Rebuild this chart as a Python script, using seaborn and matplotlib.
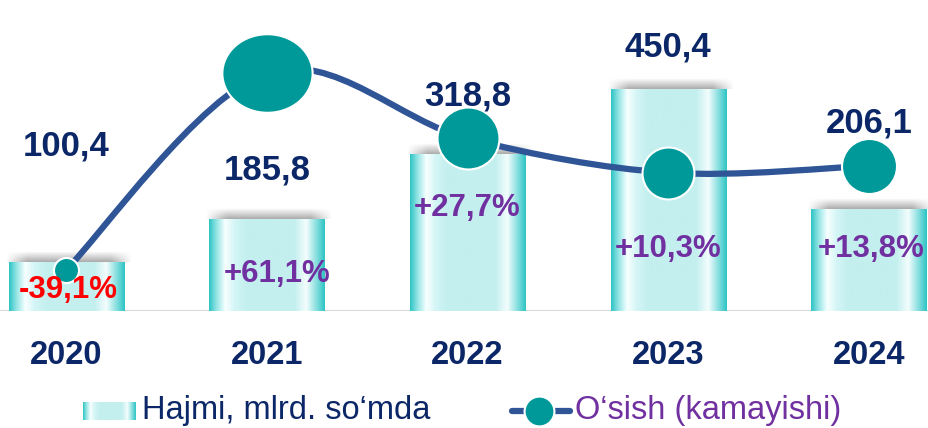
import numpy as np
import matplotlib
matplotlib.use("Agg")
import matplotlib.pyplot as plt
import matplotlib.transforms as mtransforms
from matplotlib.colors import LinearSegmentedColormap
from matplotlib.path import Path
from matplotlib.patches import PathPatch
from matplotlib.lines import Line2D
import seaborn as sns
import pandas as pd

# data
years = ["2020", "2021", "2022", "2023", "2024"]
volume = [100.4, 185.8, 318.8, 450.4, 206.1]      # Hajmi, mlrd. so'mda
growth = [-39.1, 61.1, 27.7, 10.3, 13.8]           # O'sish (kamayishi), %
volume_labels = ["100,4", "185,8", "318,8", "450,4", "206,1"]
growth_labels = ["-39,1%", "+61,1%", "+27,7%", "+10,3%", "+13,8%"]

# colours
NAVY = "#0b2767"
PURPLE = "#7030a0"
RED = "#ff0000"
LINE = "#2f5597"
TEAL = "#009999"

sns.set_style("white")
plt.rcParams["font.family"] = ["Liberation Sans", "DejaVu Sans"]

W, H = 929, 428
base_px = 311  # bar baseline, pixels from the top
fig = plt.figure(figsize=(W / 100, H / 100), dpi=100)
ax = fig.add_axes([0, (H - base_px) / H, 1, base_px / H])

df = pd.DataFrame({"year": years, "volume": volume})
sns.barplot(data=df, x="year", y="volume", ax=ax, width=0.573,
            color="#c6f0f0", saturation=1, edgecolor="none", zorder=2)

xlim = (-0.329, 4.299)
ylim = (0, 631)

# gradient fill + soft shadow on every bar
bar_cmap = LinearSegmentedColormap.from_list("bar", [
    (0.00, "#2ec4c4"), (0.06, "#8fe3e3"), (0.14, "#f8ffff"), (0.22, "#d4f5f5"),
    (0.32, "#c4efef"), (0.74, "#c4efef"), (0.84, "#f4fdfd"), (0.91, "#9ee5e5"),
    (1.00, "#2ec4c4")])
grad = np.linspace(0, 1, 256).reshape(1, -1)
px_x = W / (xlim[1] - xlim[0])
px_y = base_px / (ylim[1] - ylim[0])
for p in ax.patches:
    x0, y0, w, h = p.get_x(), p.get_y(), p.get_width(), p.get_height()
    top = y0 + h
    # shadow
    n, m = 20, 60
    a_v = np.linspace(0, 0.5, n).reshape(-1, 1)
    a_h = np.clip(np.minimum(np.linspace(0, 1, m), np.linspace(1, 0, m)) * 6, 0, 1).reshape(1, -1)
    sh = np.zeros((n, m, 4))
    sh[..., :3] = 0.35
    sh[..., 3] = a_v * a_h
    ax.imshow(sh, extent=(x0 - 4 / px_x, x0 + w + 8 / px_x, top, top + 11 / px_y),
              aspect="auto", zorder=1.5, interpolation="bilinear")
    im = ax.imshow(grad, cmap=bar_cmap, extent=(x0, x0 + w, y0, top),
                   aspect="auto", zorder=2.1, interpolation="bilinear")
    im.set_clip_path(p)

ax.axhline(0, color="#d9d9d9", lw=1.5, zorder=1)
ax.set_xlim(*xlim)
ax.set_ylim(*ylim)
ax.set_yticks([])
ax.set_xticks(range(len(years)))
ax.set_xticklabels(years, fontsize=23.5, fontweight="bold", color=NAVY)
ax.tick_params(axis="x", length=0, pad=21)
ax.set_xlabel("")
ax.set_ylabel("")
for s in ax.spines.values():
    s.set_visible(False)

# growth line on a second axis, smooth curve through the points
ax2 = ax.twinx()
ax2.set_ylim(-60.0, 98.1)
ax2.set_xlim(*xlim)
ax2.set_yticks([])
for s in ax2.spines.values():
    s.set_visible(False)

pts = np.column_stack([np.arange(len(growth)), growth]).astype(float)
ext = np.vstack([pts[0], pts, pts[-1]])
verts = [pts[0]]
codes = [Path.MOVETO]
for i in range(len(pts) - 1):
    p0, p1, p2, p3 = ext[i], ext[i + 1], ext[i + 2], ext[i + 3]
    verts += [p1 + (p2 - p0) / 6, p2 - (p3 - p1) / 6, p2]
    codes += [Path.CURVE4] * 3
ax2.add_patch(PathPatch(Path(verts, codes), fill=False, edgecolor=LINE,
                        lw=4.5, capstyle="round", zorder=3))

circ = Path.unit_circle()
ellipse = Path(circ.vertices * [1, 0.87], circ.codes)
marker_shapes = ["o", ellipse, "o", "o", "o"]
marker_sizes = [18, 65, 44.6, 37.4, 39.6]
for i, g in enumerate(growth):
    ax2.scatter([i], [g], s=marker_sizes[i] ** 2, marker=marker_shapes[i],
                color=TEAL, edgecolor="white", linewidth=1.5, zorder=4)

# value labels and growth labels (on ax2 so they sit above the markers)
trans = mtransforms.blended_transform_factory(ax2.transData, ax2.transAxes)
val_y = [146, 170, 96, 47, 123]
pct_y = [290, 274, 208, 249, 249]
pct_dx = [0.01, 0.05, 0.0, 0.0, 0.01]
for i in range(len(years)):
    ax2.text(i, 1 - val_y[i] / base_px, volume_labels[i], transform=trans,
             ha="center", va="center", fontsize=25, fontweight="bold",
             color=NAVY, zorder=5)
    ax2.text(i + pct_dx[i], 1 - pct_y[i] / base_px, growth_labels[i], transform=trans,
             ha="center", va="center", fontsize=22.5, fontweight="bold",
             color=RED if growth[i] < 0 else PURPLE, zorder=5)

# legend
leg_y = 1 - 411 / H
sw = fig.add_axes([83 / W, (H - 420) / H, 53 / W, 18 / H])
sw.imshow(grad, cmap=bar_cmap, aspect="auto", interpolation="bilinear")
sw.axis("off")
fig.text(142 / W, leg_y, "Hajmi, mlrd. so\u2018mda", fontsize=23.5,
         color=NAVY, va="center", ha="left")
fig.add_artist(Line2D([512 / W, 570 / W], [leg_y, leg_y], transform=fig.transFigure,
                      color=LINE, lw=4.5, solid_capstyle="round"))
fig.add_artist(Line2D([539 / W], [leg_y], transform=fig.transFigure, marker="o",
                      markersize=21.5, color=TEAL, markeredgecolor="white",
                      markeredgewidth=1.5, linestyle="none"))
fig.text(575 / W, leg_y, "O\u2018sish (kamayishi)", fontsize=23.5,
         color=PURPLE, va="center", ha="left")

fig.savefig("out.png", dpi=100)
